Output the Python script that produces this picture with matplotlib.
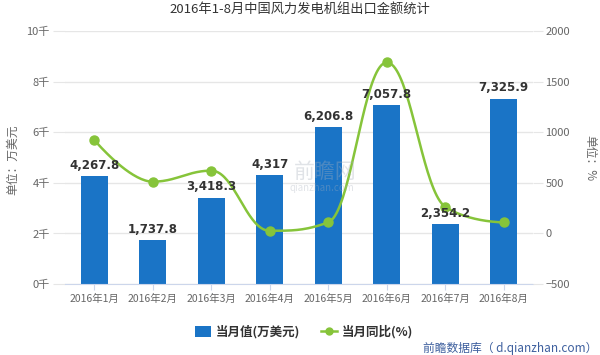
import numpy as np
import matplotlib
matplotlib.use("Agg")
import matplotlib.pyplot as plt
from matplotlib.lines import Line2D
from matplotlib.patches import Patch
from matplotlib.ticker import FuncFormatter

plt.rcParams["font.family"] = ["Noto Sans CJK SC", "DejaVu Sans"]

MONTHS = ["2016年1月", "2016年2月", "2016年3月", "2016年4月",
          "2016年5月", "2016年6月", "2016年7月", "2016年8月"]
VALUE = [4267.8, 1737.8, 3418.3, 4317.0, 6206.8, 7057.8, 2354.2, 7325.9]   # 万美元
YOY = [924, 511, 620, 26, 109, 1689, 263, 109]                             # %

BAR_C = "#1a74c6"
LINE_C = "#86c43a"
GRID_C = "#e6e6e6"
TXT_C = "#666666"


def spline(xs, ys, smoothing=1.5):
    # curva suave tipo highcharts (bezier cubica por tramo)
    n = len(xs)
    lc = [None] * n
    rc = [None] * n
    for i in range(n):
        if i == 0 or i == n - 1:
            lc[i] = rc[i] = (xs[i], ys[i])
            continue
        d = smoothing + 1
        lx = (smoothing * xs[i] + xs[i - 1]) / d
        ly = (smoothing * ys[i] + ys[i - 1]) / d
        rx = (smoothing * xs[i] + xs[i + 1]) / d
        ry = (smoothing * ys[i] + ys[i + 1]) / d
        corr = (ry - ly) * (rx - xs[i]) / (rx - lx) + ys[i] - ry
        ly += corr; ry += corr
        if ly > ys[i - 1] and ly > ys[i]:
            ly = max(ys[i - 1], ys[i]); ry = 2 * ys[i] - ly
        elif ly < ys[i - 1] and ly < ys[i]:
            ly = min(ys[i - 1], ys[i]); ry = 2 * ys[i] - ly
        if ry > ys[i + 1] and ry > ys[i]:
            ry = max(ys[i + 1], ys[i]); ly = 2 * ys[i] - ry
        elif ry < ys[i + 1] and ry < ys[i]:
            ry = min(ys[i + 1], ys[i]); ly = 2 * ys[i] - ry
        lc[i] = (lx, ly); rc[i] = (rx, ry)
    t = np.linspace(0, 1, 40)[:, None]
    pts = []
    for i in range(n - 1):
        p0 = np.array([xs[i], ys[i]]); p1 = np.array(rc[i])
        p2 = np.array(lc[i + 1]); p3 = np.array([xs[i + 1], ys[i + 1]])
        seg = ((1 - t) ** 3) * p0 + 3 * ((1 - t) ** 2) * t * p1 + 3 * (1 - t) * t ** 2 * p2 + t ** 3 * p3
        pts.append(seg)
    pts = np.vstack(pts)
    return pts[:, 0], pts[:, 1]


def fmt_label(v):
    s = f"{v:,.1f}"
    return s.rstrip("0").rstrip(".")


fig = plt.figure(figsize=(6.0, 3.55), dpi=100)
ax = fig.add_axes([65 / 600, 1 - 284 / 355, 468 / 600, 253 / 355])
ax2 = ax.twinx()

x = np.arange(len(MONTHS))
bars = ax.bar(x, VALUE, width=0.46, color=BAR_C, zorder=2)

ax.set_xlim(-0.5, len(MONTHS) - 0.5)
ax.set_ylim(0, 10000)
ax.set_yticks(np.arange(0, 10001, 2000))
ax.yaxis.set_major_formatter(FuncFormatter(lambda v, p: f"{int(v / 1000)}千"))
ax.grid(axis="y", color=GRID_C, lw=1, zorder=0)
ax.set_axisbelow(True)
ax.set_xticks(x)
ax.set_xticklabels(MONTHS)
ax.tick_params(axis="x", length=4, color="#ccd6eb", labelsize=7.5, labelcolor=TXT_C, pad=3)
ax.tick_params(axis="y", length=9, color=GRID_C, labelsize=8, labelcolor=TXT_C, pad=2)
for s in ["top", "left", "right"]:
    ax.spines[s].set_visible(False)
ax.spines["bottom"].set_color("#ccd6eb")

sx, sy = spline(list(x.astype(float)), [float(v) for v in YOY])
ax2.plot(sx, sy, color=LINE_C, lw=1.8, zorder=3)
ax2.plot(x, YOY, "o", color=LINE_C, ms=6.5, zorder=4)
ax2.set_ylim(-500, 2000)
ax2.set_yticks(np.arange(-500, 2001, 500))
ax2.tick_params(axis="y", length=7, color=GRID_C, labelsize=8, labelcolor=TXT_C, pad=2)
for s in ["top", "left", "right", "bottom"]:
    ax2.spines[s].set_visible(False)

# etiquetas de las barras, por encima de la linea
for b, v in zip(bars, VALUE):
    ax2.annotate(fmt_label(v), (b.get_x() + b.get_width() / 2, v), xycoords=ax.transData,
                 xytext=(0, 3), textcoords="offset points", ha="center", va="bottom",
                 fontsize=8.5, fontweight="bold", family="DejaVu Sans", color="#333333", zorder=6)

# marca de agua semitransparente
fig.text(325 / 600, 1 - 172 / 355, "前瞻网", fontsize=15, color="#a8b0bc", alpha=0.35,
         ha="center", va="center")
fig.text(322 / 600, 1 - 188 / 355, "qianzhan.com", fontsize=7, color="#a8b0bc", alpha=0.35,
         ha="center", va="center")

fig.text(0.5, 1 - 9 / 355, "2016年1-8月中国风力发电机组出口金额统计", ha="center", va="center",
         fontsize=9.5, color="#333333")
fig.text(13 / 600, 1 - 160 / 355, "单位：万美元", rotation=90, ha="center", va="center",
         fontsize=8.5, color=TXT_C)
fig.text(590 / 600, 1 - 158 / 355, "单位：%", rotation=-90, ha="center", va="center",
         fontsize=8.5, color=TXT_C)

handles = [Patch(facecolor=BAR_C, edgecolor="none"),
           Line2D([0], [0], color=LINE_C, lw=1.8, marker="o", ms=5)]
leg = fig.legend(handles, ["当月值(万美元)", "当月同比(%)"], loc="center",
                 bbox_to_anchor=(304 / 600, 1 - 332 / 355), ncol=2, frameon=False,
                 handlelength=1.3, handleheight=1.0, columnspacing=1.6, handletextpad=0.4,
                 prop={"size": 9, "weight": "bold"})
for t in leg.get_texts():
    t.set_color("#333333")

fig.text(597 / 600, 1 - 348 / 355, "前瞻数据库（ d.qianzhan.com）", ha="right", va="center",
         fontsize=8.5, color="#3d5f9e")

fig.savefig("out.png", dpi=100)
